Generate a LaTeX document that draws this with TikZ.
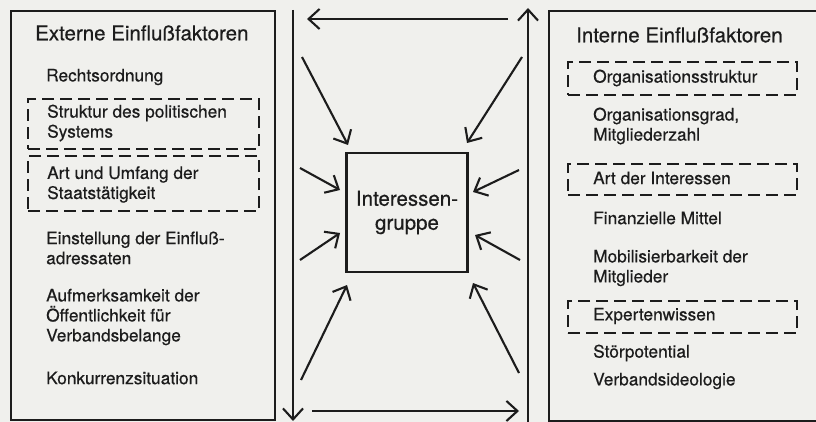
\documentclass[tikz,border=0pt]{standalone}
\usepackage{fontspec}
\setmainfont{TeX Gyre Heros}[FakeBold=0.5]
\usetikzlibrary{arrows.meta}
\definecolor{paper}{RGB}{240,240,237}
\definecolor{ink}{RGB}{28,28,28}
\tikzset{
  frame/.style={draw=ink, line width=2.1pt, inner sep=0pt},
  dashbox/.style={draw=ink, line width=2.1pt, dash pattern=on 12pt off 6pt, inner sep=0pt},
  txt/.style={text=ink, inner sep=0pt, anchor=west, align=left, font=\fontsize{17.3}{20}\selectfont},
  head/.style={text=ink, inner sep=0pt, anchor=west, font=\fontsize{20.5}{24}\selectfont},
  flow/.style={draw=ink, line width=2.1pt, -{Straight Barb[length=11pt,width=20pt,line width=2.1pt]}},
}
\begin{document}
\begin{tikzpicture}[x=1pt,y=-1pt]
\useasboundingbox (0,0) rectangle (816,422);
\clip (0,0) rectangle (816,422);
\fill[paper] (0,0) rectangle (816,422);

% outer frames
\node[frame, anchor=north west, minimum width=264pt, minimum height=409pt] (ext) at (10,10) {};
\node[frame, anchor=north west, minimum width=290pt, minimum height=410pt] (int) at (548,10) {};

% centre box
\node[frame, minimum width=121pt, minimum height=119pt, align=center,
      font=\fontsize{20.5}{24}\selectfont, text=ink] (grp) at (407,212.5) {Interessen-\\gruppe};

% left column
\node[head] (exthead) at (35,33) {Externe Einflußfaktoren};
\node[txt] (recht) at (46,77) {Rechtsordnung};
\node[dashbox, anchor=north west, minimum width=231pt, minimum height=50pt] (dbA) at (27,98) {};
\node[txt] (polsys) at (47,123) {Struktur des politischen\\Systems};
\node[dashbox, anchor=north west, minimum width=231pt, minimum height=55pt] (dbB) at (27,155) {};
\node[txt] (staat) at (47,184.5) {Art und Umfang der\\Staatstätigkeit};
\node[txt] (adress) at (46,248) {Einstellung der Einfluß-\\adressaten};
\node[txt] (oeff) at (46,317) {Aufmerksamkeit der\\Öffentlichkeit für\\Verbandsbelange};
\node[txt] (konk) at (46,378) {Konkurrenzsituation};

% right column
\node[head] (inthead) at (576,35) {Interne Einflußfaktoren};
\node[dashbox, anchor=north west, minimum width=229pt, minimum height=33pt] (dbC) at (567,61) {};
\node[txt] (orgstr) at (593,78) {Organisationsstruktur};
\node[txt] (orggrad) at (593,126) {Organisationsgrad,\\Mitgliederzahl};
\node[dashbox, anchor=north west, minimum width=229pt, minimum height=31pt] (dbD) at (567,163) {};
\node[txt] (artint) at (593,178) {Art der Interessen};
\node[txt] (finanz) at (593,218) {Finanzielle Mittel};
\node[txt] (mobil) at (593,268) {Mobilisierbarkeit der\\Mitglieder};
\node[dashbox, anchor=north west, minimum width=229pt, minimum height=32pt] (dbE) at (567,300) {};
\node[txt] (expert) at (593,316) {Expertenwissen};
\node[txt] (stoer) at (593,353) {Störpotential};
\node[txt] (ideol) at (593,381) {Verbandsideologie};

% feedback loop around the group
\coordinate (lTop) at (293,10);
\coordinate (lBot) at (293,421);
\coordinate (rTop) at (528,8);
\coordinate (rBot) at (528,424);
\coordinate (tFrom) at (508,19);
\coordinate (tTo) at (307,19);
\coordinate (bFrom) at (312,411);
\coordinate (bTo) at (519,411);
\draw[flow] (lTop) -- (lBot);
\draw[flow] (rBot) -- (rTop);
\draw[flow] (tFrom) -- (tTo);
\draw[flow] (bFrom) -- (bTo);

% influences acting on the group
\coordinate (s1) at (302,57);   \coordinate (e1) at (348,145);
\coordinate (s2) at (522,57);   \coordinate (e2) at (467,143);
\coordinate (s3) at (300,168);  \coordinate (e3) at (340,190);
\coordinate (s4) at (519,170);  \coordinate (e4) at (473,192);
\coordinate (s5) at (300,260);  \coordinate (e5) at (340,233);
\coordinate (s6) at (520,260);  \coordinate (e6) at (475,235);
\coordinate (s7) at (301,380);  \coordinate (e7) at (347,285);
\coordinate (s8) at (519,373);  \coordinate (e8) at (473,283);
\foreach \i in {1,...,8} \draw[flow] (s\i) -- (e\i);
\end{tikzpicture}
\end{document}
